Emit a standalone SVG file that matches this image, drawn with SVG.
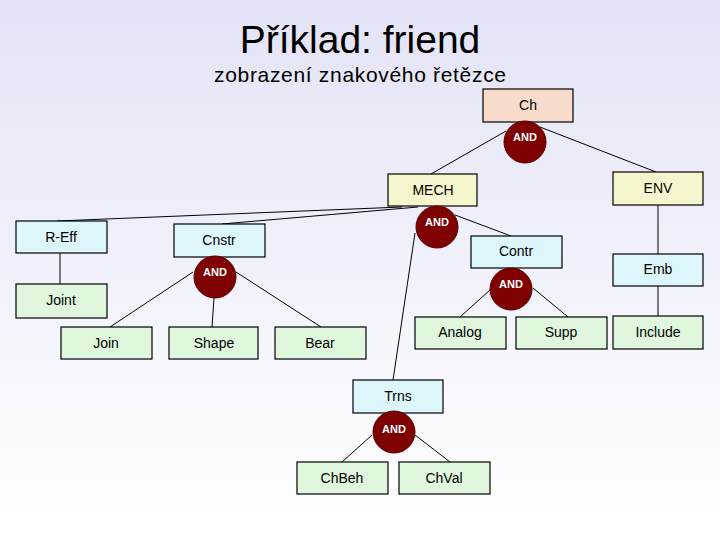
<svg xmlns="http://www.w3.org/2000/svg" width="720" height="540" viewBox="0 0 720 540">
<defs>
<linearGradient id="bg" x1="0" y1="0" x2="0" y2="1">
<stop offset="0" stop-color="#E3E3F6"/>
<stop offset="0.9" stop-color="#FDFDFF"/>
<stop offset="1" stop-color="#FFFFFF"/>
</linearGradient>
<style>
.box{stroke:#000;stroke-width:1.2}
.peach{fill:#F7DCCB}
.yel{fill:#F6F6CE}
.blue{fill:#DDF6FB}
.green{fill:#E0F7DE}
.lbl{font-family:"Liberation Sans",Arial,sans-serif;font-size:14px;text-anchor:middle;fill:#000}
.and circle{fill:#7E0000;stroke:#5A0000;stroke-width:1}
.and text{font-family:"Liberation Sans",Arial,sans-serif;font-size:11px;font-weight:bold;text-anchor:middle;fill:#fff}
#connectors line{stroke:#000;stroke-width:1}
</style>
</defs>
<rect width="720" height="540" fill="url(#bg)"/>
<text x="360" y="53" font-family="'Liberation Sans',Arial,sans-serif" font-size="39" text-anchor="middle">Příklad: friend</text>
<text x="360" y="82" font-family="'Liberation Sans',Arial,sans-serif" font-size="21" text-anchor="middle" textLength="292">zobrazení znakového řetězce</text>

<g id="connectors">
<line x1="506" y1="131" x2="431" y2="174"/>
<line x1="540" y1="127" x2="656" y2="172"/>
<line x1="57" y1="221" x2="402" y2="207"/>
<line x1="222" y1="224" x2="418" y2="207"/>
<line x1="455" y1="215" x2="511" y2="236"/>
<line x1="415" y1="233" x2="393" y2="380"/>
<line x1="658" y1="205" x2="658" y2="254"/>
<line x1="658" y1="286" x2="658" y2="316"/>
<line x1="60" y1="253" x2="60" y2="284"/>
<line x1="193" y1="272" x2="110" y2="327"/>
<line x1="214" y1="298" x2="212" y2="327"/>
<line x1="236" y1="272" x2="321" y2="327"/>
<line x1="490" y1="290" x2="460" y2="317"/>
<line x1="533" y1="288" x2="568" y2="317"/>
<line x1="372" y1="435" x2="342" y2="462"/>
<line x1="415" y1="435" x2="450" y2="462"/>
</g>

<g id="Ch"><rect class="box peach" x="483" y="89" width="90" height="33"/><text class="lbl" x="528" y="110">Ch</text></g>
<g id="MECH"><rect class="box yel" x="388" y="174" width="89" height="32"/><text class="lbl" x="433" y="195">MECH</text></g>
<g id="ENV"><rect class="box yel" x="613" y="172" width="90" height="33"/><text class="lbl" x="658" y="193">ENV</text></g>
<g id="R-Eff"><rect class="box blue" x="16" y="221" width="91" height="32"/><text class="lbl" x="61" y="242">R-Eff</text></g>
<g id="Cnstr"><rect class="box blue" x="174" y="224" width="91" height="33"/><text class="lbl" x="219" y="245">Cnstr</text></g>
<g id="Contr"><rect class="box blue" x="471" y="236" width="91" height="32"/><text class="lbl" x="516" y="256">Contr</text></g>
<g id="Emb"><rect class="box blue" x="613" y="254" width="90" height="32"/><text class="lbl" x="658" y="274">Emb</text></g>
<g id="Joint"><rect class="box green" x="16" y="284" width="91" height="34"/><text class="lbl" x="61" y="305">Joint</text></g>
<g id="Join"><rect class="box green" x="61" y="327" width="91" height="32"/><text class="lbl" x="106" y="348">Join</text></g>
<g id="Shape"><rect class="box green" x="169" y="327" width="89" height="32"/><text class="lbl" x="214" y="348">Shape</text></g>
<g id="Bear"><rect class="box green" x="275" y="327" width="91" height="32"/><text class="lbl" x="320" y="348">Bear</text></g>
<g id="Analog"><rect class="box green" x="415" y="317" width="91" height="32"/><text class="lbl" x="460" y="337">Analog</text></g>
<g id="Supp"><rect class="box green" x="516" y="317" width="91" height="32"/><text class="lbl" x="561" y="337">Supp</text></g>
<g id="Include"><rect class="box green" x="613" y="316" width="90" height="33"/><text class="lbl" x="658" y="337">Include</text></g>
<g id="Trns"><rect class="box blue" x="353" y="380" width="90" height="33"/><text class="lbl" x="398" y="401">Trns</text></g>
<g id="ChBeh"><rect class="box green" x="297" y="462" width="91" height="32"/><text class="lbl" x="342" y="483">ChBeh</text></g>
<g id="ChVal"><rect class="box green" x="399" y="462" width="91" height="32"/><text class="lbl" x="444" y="483">ChVal</text></g>

<g id="and-ch" class="and"><circle cx="525" cy="142" r="21"/><text x="525" y="141">AND</text></g>
<g id="and-mech" class="and"><circle cx="437" cy="227" r="21"/><text x="437" y="226">AND</text></g>
<g id="and-cnstr" class="and"><circle cx="215" cy="277" r="21"/><text x="215" y="276">AND</text></g>
<g id="and-contr" class="and"><circle cx="511" cy="289" r="21"/><text x="511" y="288">AND</text></g>
<g id="and-trns" class="and"><circle cx="394" cy="432" r="21"/><text x="394" y="433">AND</text></g>
</svg>
